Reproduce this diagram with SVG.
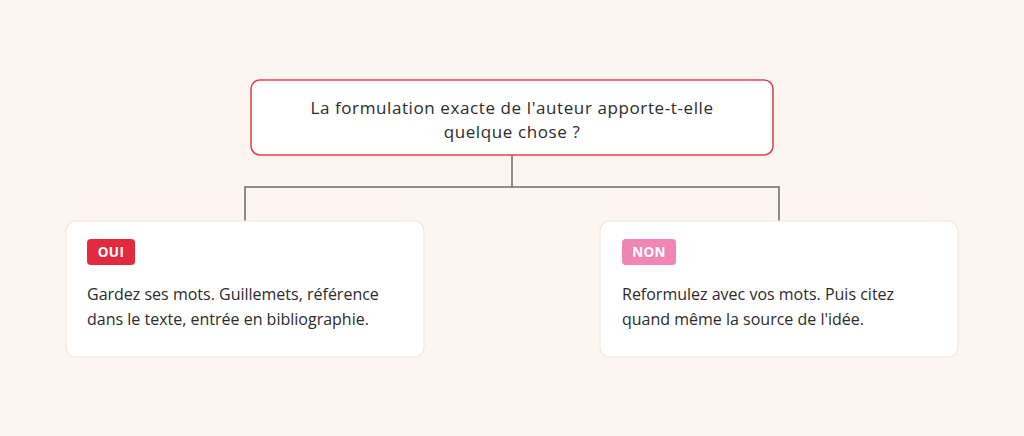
<svg xmlns="http://www.w3.org/2000/svg" width="1024" height="436" viewBox="0 0 1024 436">
<style>
.bg{fill:#fdf6f0}
.card{fill:#ffffff;stroke:#f3e6dc;stroke-width:1.2}
.q{fill:#ffffff;stroke:#e04453;stroke-width:1.6}
.t{font-family:"Open Sans","Noto Sans",sans-serif;font-size:16px;fill:#2b2b2b}
.tq{font-size:17px;letter-spacing:0.6px}
.b{font-family:"Open Sans","Noto Sans",sans-serif;font-size:13.5px;font-weight:700;fill:#ffffff;letter-spacing:0.3px}
.conn{fill:none;stroke:#6b6b6b;stroke-width:1.5}
</style>
<rect class="bg" x="0" y="0" width="1024" height="436"/>
<g id="connectors">
<path class="conn" d="M512 155 V187 M245 221 V187 H779 V221"/>
</g>
<g id="question">
<rect class="q" x="251" y="80" width="522" height="75" rx="9"/>
<text class="t tq" x="512" y="114" text-anchor="middle">La formulation exacte de l'auteur apporte-t-elle</text>
<text class="t tq" x="512" y="138" text-anchor="middle">quelque chose ?</text>
</g>
<g id="oui">
<rect class="card" x="66" y="221" width="358" height="136" rx="10"/>
<rect x="87" y="239" width="48" height="26" rx="4" fill="#e22a3e"/>
<text class="b" x="111" y="257" text-anchor="middle">OUI</text>
<text class="t" x="87" y="300">Gardez ses mots. Guillemets, référence</text>
<text class="t" x="87" y="325">dans le texte, entrée en bibliographie.</text>
</g>
<g id="non">
<rect class="card" x="600" y="221" width="358" height="136" rx="10"/>
<rect x="622" y="239" width="54" height="26" rx="4" fill="#f086b5"/>
<text class="b" x="649" y="257" text-anchor="middle">NON</text>
<text class="t" x="622" y="300">Reformulez avec vos mots. Puis citez</text>
<text class="t" x="622" y="325">quand même la source de l'idée.</text>
</g>
</svg>
